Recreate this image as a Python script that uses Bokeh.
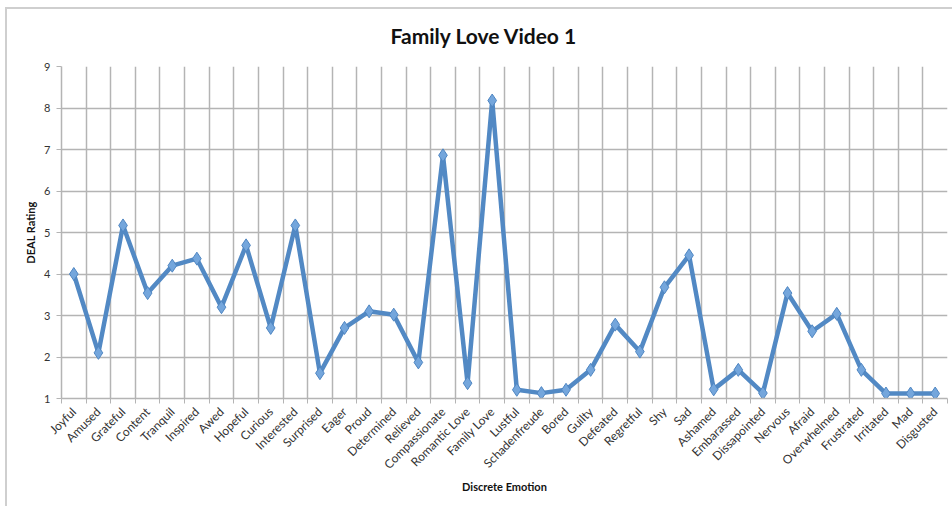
import math
from bokeh.plotting import figure
from bokeh.models import Range1d, FixedTicker, ColumnDataSource
from bokeh.embed import file_html
from bokeh.resources import INLINE

# DEAL ratings per discrete emotion
emotions = [
    "Joyful", "Amused", "Grateful", "Content", "Tranquil", "Inspired", "Awed",
    "Hopeful", "Curious", "Interested", "Surprised", "Eager", "Proud",
    "Determined", "Relieved", "Compassionate", "Romantic Love", "Family Love",
    "Lustful", "Schadenfreude", "Bored", "Guilty", "Defeated", "Regretful",
    "Shy", "Sad", "Ashamed", "Embarassed", "Dissapointed", "Nervous", "Afraid",
    "Overwhelmed", "Frustrated", "Irritated", "Mad", "Disgusted",
]
ratings = [
    4.0, 2.1, 5.17, 3.54, 4.2, 4.37, 3.2,
    4.69, 2.7, 5.17, 1.61, 2.7, 3.1,
    3.02, 1.87, 6.86, 1.37, 8.18,
    1.21, 1.13, 1.21, 1.69, 2.78, 2.13,
    3.68, 4.45, 1.22, 1.69, 1.13, 3.54, 2.62,
    3.04, 1.69, 1.12, 1.12, 1.12,
]
y_ticks = [1, 2, 3, 4, 5, 6, 7, 8, 9]

n = len(emotions)
centers = [i + 0.5 for i in range(n)]
src = ColumnDataSource(dict(x=centers, y=ratings))

FONT = "Lato"
GRID = "#b4b4b4"
EDGE = "#cfcfcf"

p = figure(
    width=952, height=506,
    x_range=Range1d(0, n), y_range=Range1d(1, 9),
    output_backend="svg", toolbar_location=None,
    min_border_left=61, min_border_right=5,
    min_border_top=66, min_border_bottom=108,
    title="Family Love Video 1",
)
# chart-area edge along the top and left, painted behind a transparent border
p.border_fill_color = None
p.styles = {
    "background": (
        f"linear-gradient({EDGE},{EDGE}) 5px 7px / 100% 2px no-repeat, "
        f"linear-gradient({EDGE},{EDGE}) 5px 7px / 2px 100% no-repeat, white"
    ),
}
p.background_fill_color = "white"
p.outline_line_color = None

# title sits over the middle of the whole chart area
p.title.align = "left"
p.title.offset = 329
p.title.text_font = FONT
p.title.text_font_size = "21px"
p.title.text_font_style = "bold"
p.title.text_color = "#111111"
p.title.standoff = 38

# category axis: labels at centers, tick marks at the boundaries
p.xaxis.ticker = FixedTicker(ticks=centers, minor_ticks=list(range(n + 1)))
p.xaxis.major_label_overrides = {c: e for c, e in zip(centers, emotions)}
p.xaxis.major_label_orientation = math.pi / 4
p.xaxis.major_tick_out = 0
p.xaxis.major_tick_in = 0
p.xaxis.minor_tick_out = 5
p.xaxis.minor_tick_in = 0
p.xaxis.minor_tick_line_color = GRID
p.xaxis.axis_label = "Discrete Emotion"

p.yaxis.ticker = FixedTicker(ticks=y_ticks)
p.yaxis.major_tick_out = 5
p.yaxis.major_tick_in = 0
p.yaxis.minor_tick_line_color = None
p.yaxis.axis_label = "DEAL Rating"

for ax in (p.xaxis, p.yaxis):
    ax.axis_line_color = GRID
    ax.axis_line_width = 1.5
    ax.major_tick_line_color = GRID
    ax.major_label_text_font = FONT
    ax.major_label_text_color = "#333333"
    ax.axis_label_text_font = FONT
    ax.axis_label_text_font_size = "11px"
    ax.axis_label_text_font_style = "bold"
    ax.axis_label_text_color = "#111111"
p.xaxis.major_label_text_font_size = "12px"
p.yaxis.major_label_text_font_size = "11px"
p.xaxis.major_label_standoff = 6
p.xaxis.axis_label_standoff = 0
p.yaxis.major_label_standoff = 6
p.yaxis.axis_label_standoff = 4

p.xgrid.ticker = FixedTicker(ticks=list(range(n + 1)))
p.xgrid.grid_line_color = GRID
p.xgrid.grid_line_width = 1.5
p.ygrid.ticker = FixedTicker(ticks=y_ticks)
p.ygrid.grid_line_color = GRID
p.ygrid.grid_line_width = 1.5

p.line("x", "y", source=src, line_color="#5289c4", line_width=4.5)
p.scatter("x", "y", source=src, marker="diamond", size=13,
          fill_color="#74a6dc", line_color="#4f86c2", line_width=1)

open("out.html", "w").write(file_html(p, INLINE))
